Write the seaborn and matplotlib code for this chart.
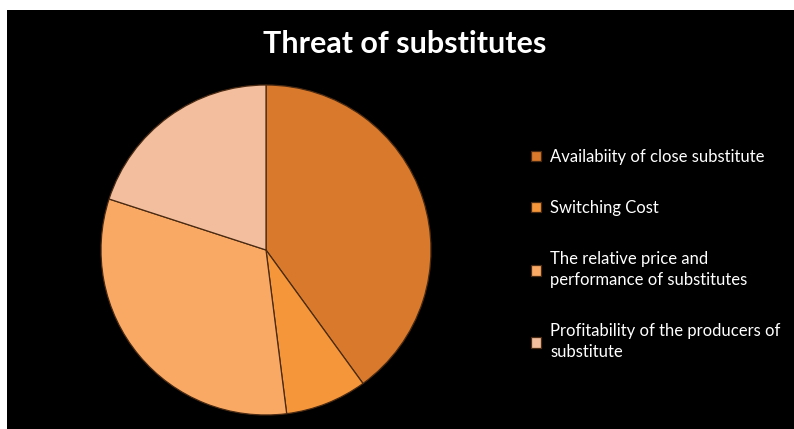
import matplotlib
matplotlib.use("Agg")
import matplotlib.pyplot as plt
from matplotlib.patches import Rectangle
import seaborn as sns

# Data
factors = [
    "Availabiity of close substitute",
    "Switching Cost",
    "The relative price and\nperformance of substitutes",
    "Profitability of the producers of\nsubstitute",
]
shares = [40, 8, 32, 20]
slice_colors = ["#D9792B", "#F5963A", "#FAA964", "#F2BE9E"]

sns.set_theme(style="dark")
plt.rcParams["font.family"] = ["Lato", "DejaVu Sans"]

fig = plt.figure(figsize=(7.94, 4.29), dpi=100, facecolor="white")

# black chart panel inset from the top and left edges
fig.patches.append(Rectangle((7 / 794, 0), 1, 1 - 10 / 429,
                             transform=fig.transFigure, facecolor="black",
                             edgecolor="none", zorder=-10))

ax = fig.add_axes([101 / 794, 14 / 429, 330 / 794, 330 / 429])
ax.set_zorder(2)
ax.set_facecolor("none")
wedges, _ = ax.pie(shares, colors=slice_colors, startangle=90,
                   counterclock=False, radius=1,
                   wedgeprops=dict(edgecolor="#4a2a12", linewidth=0.9))
ax.set_xlim(-1.0, 1.0)
ax.set_ylim(-1.0, 1.0)
ax.set_aspect("equal")
ax.axis("off")

fig.text(405 / 794, 1 - 44 / 429, "Threat of substitutes", color="white",
         fontsize=22, fontweight="bold", ha="center", va="center")

leg = fig.legend(wedges, factors, loc="upper left",
                 bbox_to_anchor=(531 / 794, 1 - 149 / 429),
                 frameon=False, fontsize=12, labelcolor="white",
                 handlelength=0.6, handleheight=0.6, handletextpad=0.55,
                 labelspacing=2.1, borderpad=0, borderaxespad=0)
leg.set_zorder(3)
for t in leg.get_texts():
    t.set_linespacing(1.4)

fig.savefig("out.png", dpi=100, facecolor=fig.get_facecolor())
